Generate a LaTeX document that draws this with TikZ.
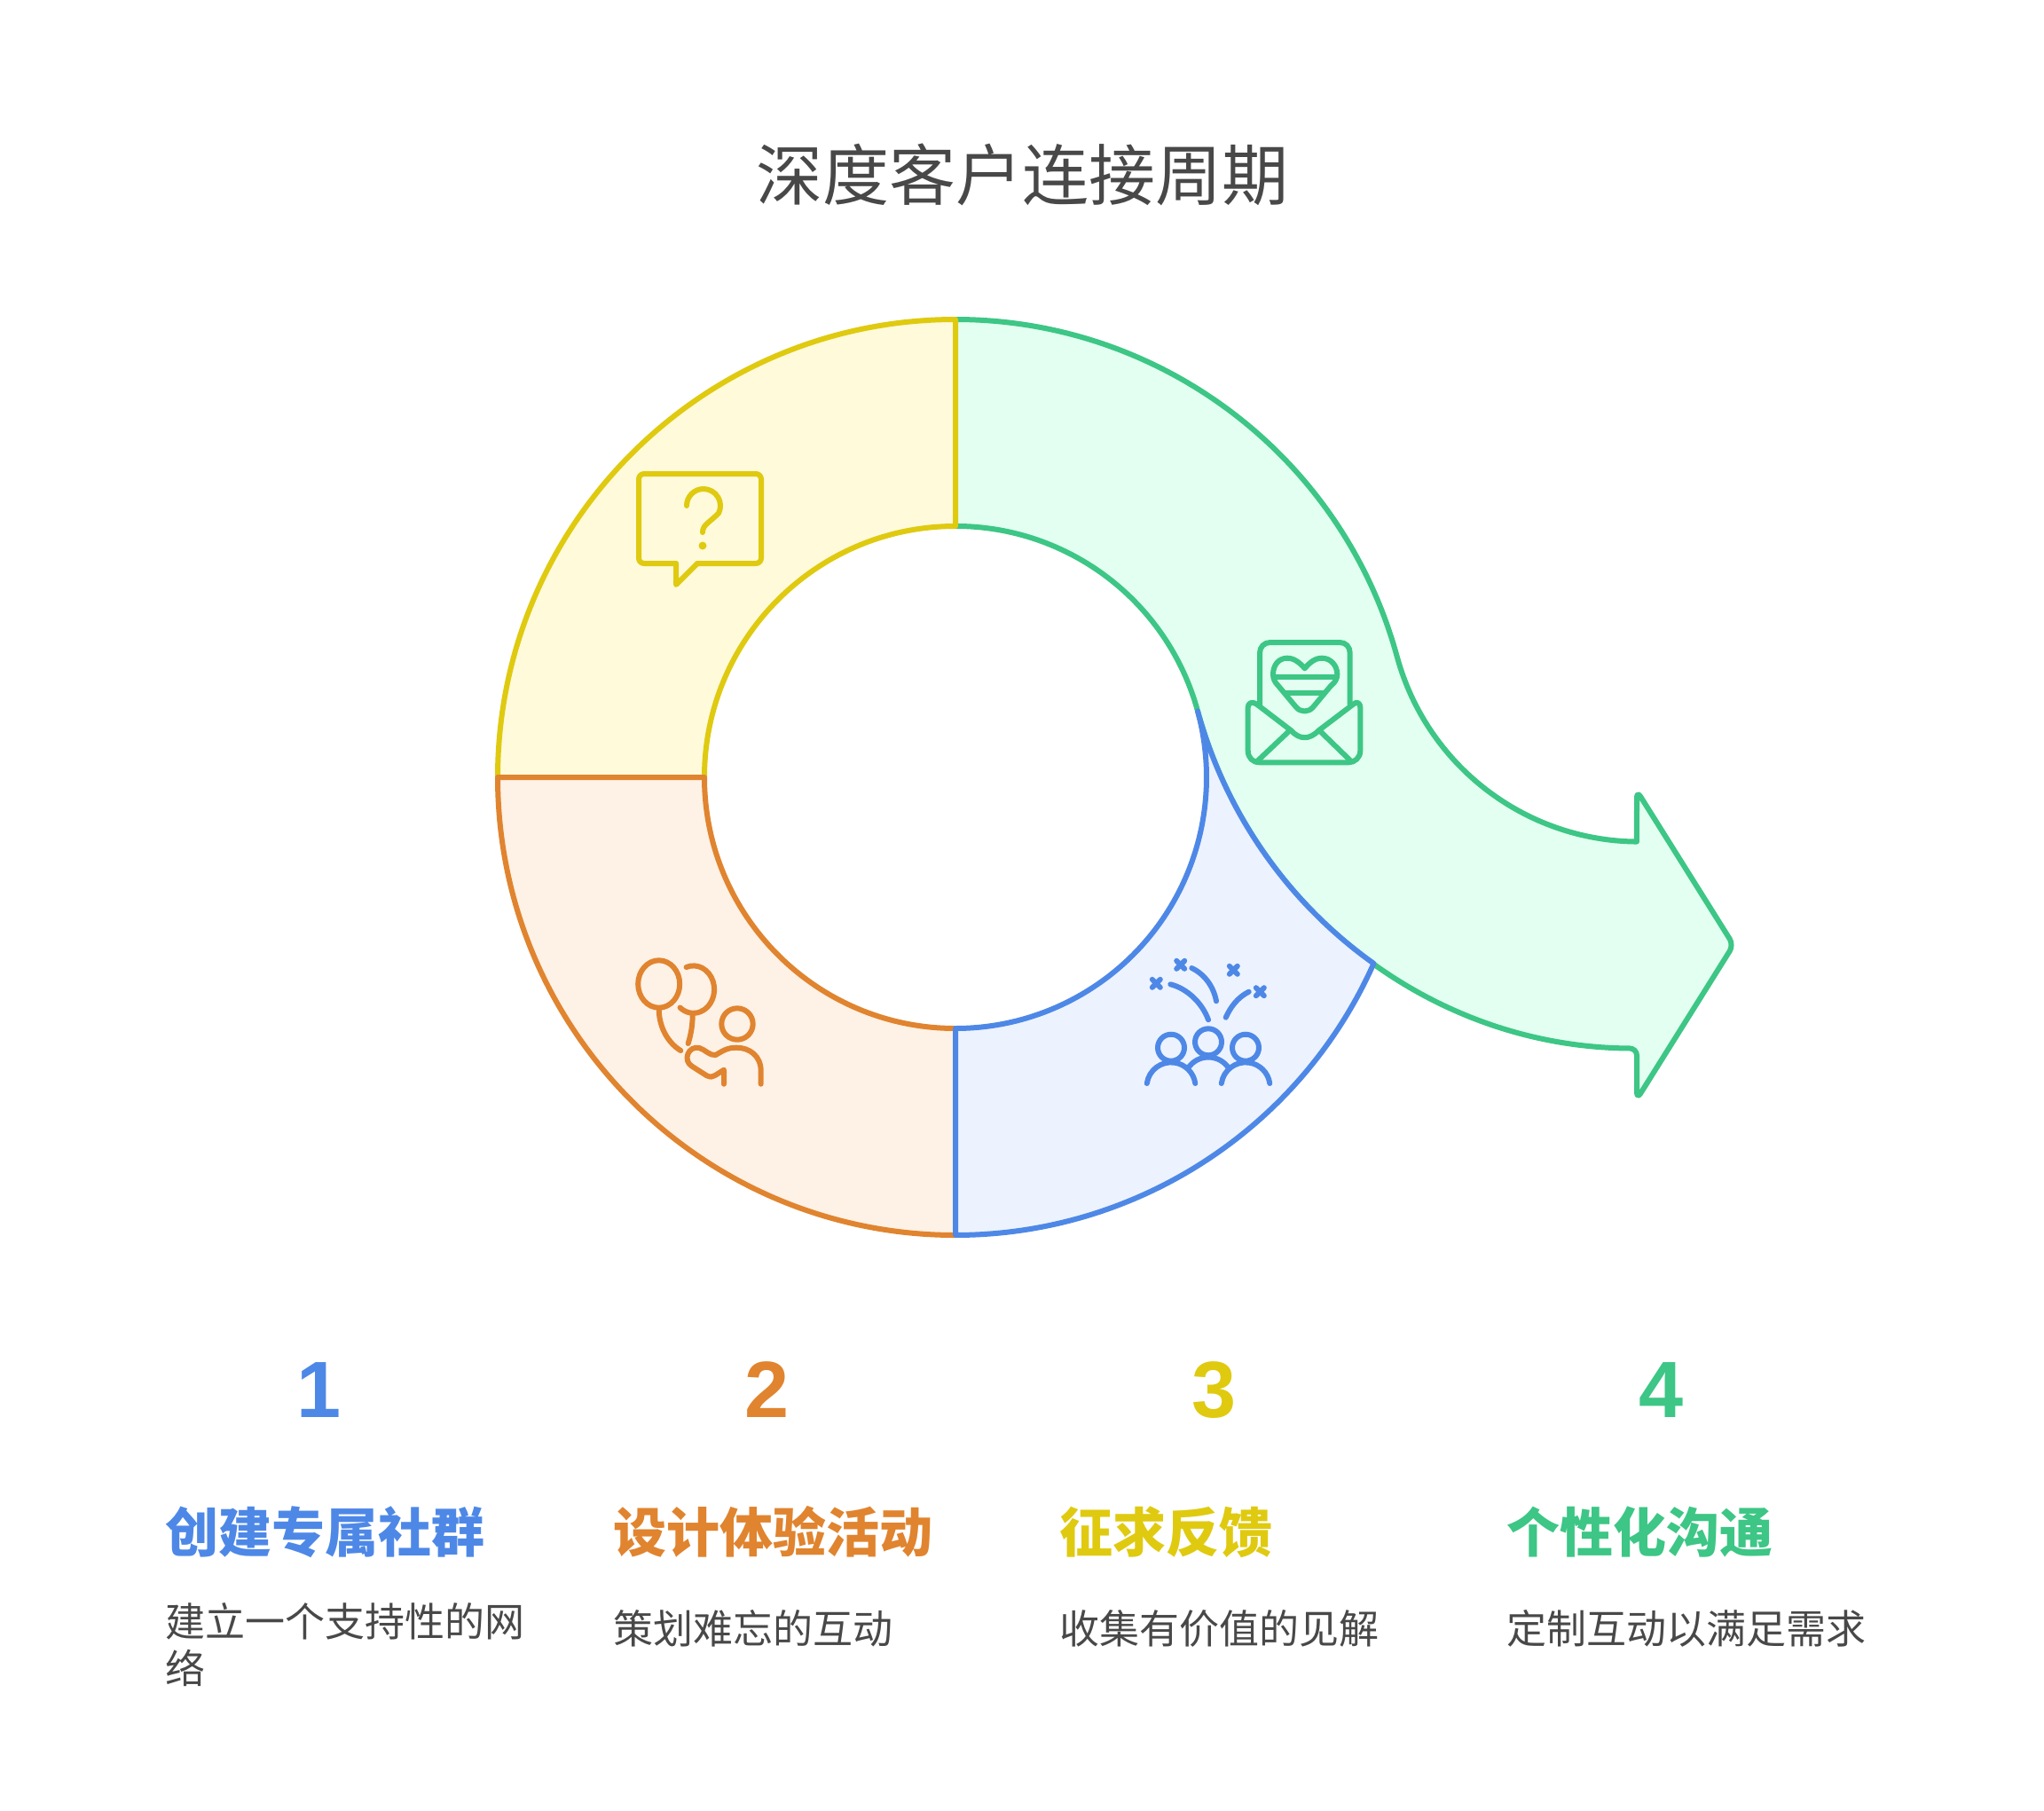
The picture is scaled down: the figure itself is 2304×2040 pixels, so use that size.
\documentclass[tikz,border=0pt]{standalone}
\usepackage{xcolor}
\usepackage{fontspec}
\setmainfont{Liberation Sans}
\newfontfamily\cjkfont{Noto Sans CJK SC}
\usetikzlibrary{positioning}

\definecolor{blueline}{HTML}{4E88E7}
\definecolor{bluefill}{HTML}{ECF3FF}
\definecolor{orangeline}{HTML}{E0842F}
\definecolor{orangefill}{HTML}{FEF1E5}
\definecolor{yellowline}{HTML}{DFCA10}
\definecolor{yellowfill}{HTML}{FFFADA}
\definecolor{greenline}{HTML}{3DC685}
\definecolor{greenfill}{HTML}{E2FFF1}
\definecolor{textgray}{HTML}{484848}

\begin{document}
\begin{tikzpicture}[
    x=1pt, y=-1pt,
    seg/.style={line width=6pt, line join=round},
    icon/.style={line width=6pt, line cap=round, line join=round},
    titletext/.style={inner sep=0pt, anchor=base, text=textgray, font=\cjkfont\fontsize{75}{90}\selectfont},
    numtext/.style={inner sep=0pt, anchor=base, font=\bfseries\fontsize{90}{110}\selectfont},
    headtext/.style={inner sep=0pt, anchor=base west, font=\cjkfont\bfseries\fontsize{60}{72}\selectfont},
    desctext/.style={inner sep=0pt, anchor=base west, text=textgray, align=left, font=\cjkfont\fontsize{45}{53}\selectfont}
]
\useasboundingbox (0,0) rectangle (2304,2040);

% === Title ===
\node[titletext] (title) at (1152,225) {深度客户连接周期};

% === Ring and arrow ===
% Green arm with head
\filldraw[seg, draw=greenline, fill=greenfill] (1077,360) arc[start angle=-90, end angle=-15.27, radius=516]
    arc[start angle=164.73, end angle=90.57, radius=283]
    [rounded corners=8pt] -- (1845,891) -- (1954,1065) -- (1845,1239) -- (1845,1181.5) [sharp corners]
    arc[start angle=90.31, end angle=164.73, radius=516]
    arc[start angle=-15.27, end angle=-90, radius=283];
% Yellow quarter
\filldraw[seg, draw=yellowline, fill=yellowfill] (561,876) arc[start angle=180, end angle=270, radius=516]
    -- (1077,593) arc[start angle=270, end angle=180, radius=283];
% Orange quarter
\filldraw[seg, draw=orangeline, fill=orangefill] (1077,1392) arc[start angle=90, end angle=180, radius=516]
    -- (794,876) arc[start angle=180, end angle=90, radius=283];
% Blue quarter
\filldraw[seg, draw=blueline, fill=bluefill] (1077,1392) -- (1077,1159)
    arc[start angle=90, end angle=-15.27, radius=283]
    arc[start angle=164.73, end angle=125.46, radius=516]
    arc[start angle=24, end angle=90, radius=516] -- cycle;

% === Speech bubble icon ===
\draw[icon, yellowline, rounded corners=6pt] (762,635) -- (720,635) -- (720,534) -- (858,534) -- (858,635) -- (786,635);
\draw[icon, yellowline] (786,635) -- (762,659) -- (762,635);
\draw[icon, yellowline] (774,570) arc[start angle=180, end angle=385, radius=19]
    .. controls (800,589) and (792,591) .. (792,600);
\fill[yellowline] (792,615) circle[radius=4.5];

% === Balloons icon ===
\draw[icon, orangeline] (742.7,1109) ellipse[x radius=23.5, y radius=26.7];
\draw[icon, orangeline] (773.6,1090) arc[start angle=-110, end angle=130, x radius=23.5, y radius=26.7];
\draw[icon, orangeline] (742.7,1136.7) .. controls (742.7,1160) and (755,1176.7) .. (767.3,1184);
\draw[icon, orangeline] (780.7,1143.3) .. controls (780.7,1155) and (779,1165) .. (775.7,1176);
\draw[icon, orangeline] (831,1154) circle[radius=17.7];
\draw[icon, orangeline] (857.7,1221.7) -- (857.7,1207) .. controls (857.7,1190) and (845,1180.7) .. (830,1180.7)
    .. controls (820,1180.7) and (815,1184) .. (806.7,1189) .. controls (800,1190) and (795,1183) .. (788.3,1181)
    .. controls (776,1178) and (769,1195) .. (780,1201.7) -- (796.7,1212.3) .. controls (801,1214) and (803,1214) .. (806,1212)
    -- (816,1205.7) -- (816,1221.7);

% === Crowd and fireworks icon ===
\draw[icon, blueline] (1320,1180.7) circle[radius=15];
\draw[icon, blueline] (1362,1174.3) circle[radius=15];
\draw[icon, blueline] (1404,1180.7) circle[radius=15];
\draw[icon, blueline] (1292.8,1221) arc[start angle=188, end angle=352, radius=27.5];
\draw[icon, blueline] (1376.8,1221) arc[start angle=188, end angle=352, radius=27.5];
\draw[icon, blueline, line cap=butt] (1339,1204) arc[start angle=213, end angle=327, radius=27.5];
\draw[icon, blueline] (1319.3,1109.3) .. controls (1338,1114) and (1355,1130) .. (1362,1149.3);
\draw[icon, blueline] (1343.3,1091) .. controls (1358,1098) and (1368,1112) .. (1371,1128.3);
\draw[icon, blueline] (1407.7,1117.7) .. controls (1395,1124) and (1387,1135) .. (1381.7,1146.7);
\draw[icon, blueline] (1298.8,1103.8) -- (1307.8,1112.8) (1307.8,1103.8) -- (1298.8,1112.8);
\draw[icon, blueline] (1326.2,1082.8) -- (1335.2,1091.8) (1335.2,1082.8) -- (1326.2,1091.8);
\draw[icon, blueline] (1385.8,1088.8) -- (1394.8,1097.8) (1394.8,1088.8) -- (1385.8,1097.8);
\draw[icon, blueline] (1415.8,1113.2) -- (1424.8,1122.2) (1424.8,1113.2) -- (1415.8,1122.2);

% === Letter and heart icon ===
\draw[icon, greenline] (1420,795) -- (1420,736) .. controls (1420,729) and (1425,724) .. (1432,724) -- (1510,724)
    .. controls (1517,724) and (1521.7,729) .. (1521.7,736) -- (1521.7,794);
\draw[icon, greenline] (1470.7,753.3) .. controls (1462,743) and (1455,741.7) .. (1451,741.7)
    .. controls (1441,741.7) and (1435,750) .. (1435,760) .. controls (1435,765) and (1437,769) .. (1441,773)
    -- (1461,797) .. controls (1466,803) and (1475,803) .. (1480,797) -- (1500,773)
    .. controls (1505,769) and (1507.3,765) .. (1507.3,760) .. controls (1507.3,750) and (1500,741.7) .. (1490,741.7)
    .. controls (1486,741.7) and (1479,743) .. (1470.7,753.3) -- cycle;
\draw[icon, greenline] (1437,762.7) -- (1505,762.7);
\draw[icon, greenline] (1448.3,781) -- (1491.7,781);
\draw[icon, greenline] (1417,794) -- (1455,823) .. controls (1465,834) and (1476,834) .. (1486.7,823) -- (1525,794)
    .. controls (1529,790) and (1533.3,792) .. (1533.3,797) -- (1533.3,846) .. controls (1533.3,854) and (1527,859.3) .. (1520,859.3)
    -- (1420,859.3) .. controls (1412,859.3) and (1406.7,854) .. (1406.7,846) -- (1406.7,797)
    .. controls (1406.7,792) and (1412,790) .. (1417,794) -- cycle;
\draw[icon, greenline] (1453,824) -- (1417,858);
\draw[icon, greenline] (1488,824) -- (1523,858);

% === Numbers ===
\node[numtext, blueline] (num1) at (360,1597) {1};
\node[numtext, orangeline] (num2) at (864.5,1597) {2};
\node[numtext, yellowline] (num3) at (1369,1597) {3};
\node[numtext, greenline] (num4) at (1873,1597) {4};

% === Headings ===
\node[headtext, blueline] (head1) at (186.5,1749) {创建专属社群};
\node[headtext, orangeline] (head2) at (691,1749) {设计体验活动};
\node[headtext, yellowline] (head3) at (1194,1749) {征求反馈};
\node[headtext, greenline] (head4) at (1698.5,1749) {个性化沟通};

% === Descriptions ===
\node[desctext] (desc1) at (186.5,1897) {建立一个支持性的网\\络};
\node[desctext] (desc2) at (691,1852) {策划难忘的互动};
\node[desctext] (desc3) at (1194,1852) {收集有价值的见解};
\node[desctext] (desc4) at (1698.5,1852) {定制互动以满足需求};
\end{tikzpicture}
\end{document}
